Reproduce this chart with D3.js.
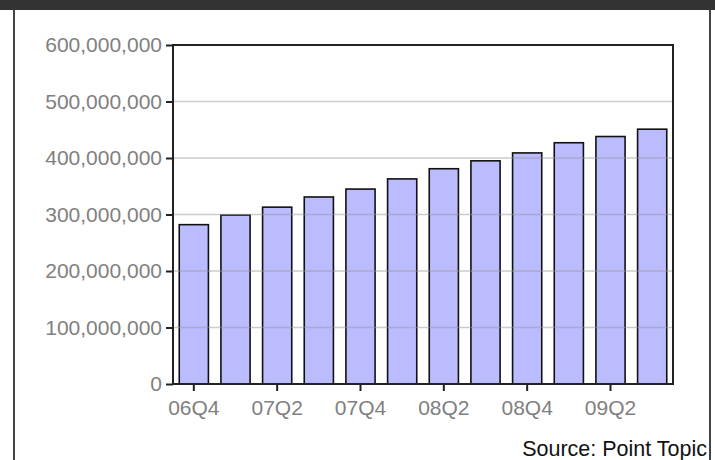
<!DOCTYPE html>
<html>
<head>
<meta charset="utf-8">
<script src="https://cdn.jsdelivr.net/npm/d3@7"></script>
<style>
  body { margin: 0; background: #fff; }
  svg { display: block; }
</style>
</head>
<body>
<script>
var quarters = ['06Q4', '07Q1', '07Q2', '07Q3', '07Q4', '08Q1', '08Q2', '08Q3', '08Q4', '09Q1', '09Q2', '09Q3'];
var subscribers = [282e6, 299e6, 313e6, 331e6, 345e6, 363e6, 381e6, 395e6, 409e6, 427e6, 438e6, 451e6];
var yTicks = [0, 100e6, 200e6, 300e6, 400e6, 500e6, 600e6];
var xLabels = ['06Q4', '07Q2', '07Q4', '08Q2', '08Q4', '09Q2'];

var width = 715, height = 460;
var plot = { left: 173, right: 673, top: 45, bottom: 384 };

var svg = d3.select('body').append('svg')
    .attr('width', width)
    .attr('height', height);

// dark header strip + frame sides
svg.append('rect')
    .attr('x', 0).attr('y', 0)
    .attr('width', width).attr('height', 10)
    .attr('fill', '#333');
svg.append('line')
    .attr('x1', 14).attr('x2', 14).attr('y1', 10).attr('y2', height)
    .attr('stroke', '#444').attr('stroke-width', 2);
svg.append('line')
    .attr('x1', 710).attr('x2', 710).attr('y1', 10).attr('y2', height)
    .attr('stroke', '#444').attr('stroke-width', 2);

var x = d3.scaleBand()
    .domain(quarters)
    .range([plot.left, plot.right])
    .paddingInner(0.3)
    .paddingOuter(0.15);

var y = d3.scaleLinear()
    .domain([0, 600e6])
    .range([plot.bottom, plot.top]);

svg.selectAll('rect.bar')
    .data(subscribers)
    .enter().append('rect')
    .attr('class', 'bar')
    .attr('x', function(d, i) { return x(quarters[i]); })
    .attr('y', function(d) { return y(d); })
    .attr('width', x.bandwidth())
    .attr('height', function(d) { return plot.bottom - y(d); })
    .attr('fill', '#bbbbff')
    .attr('stroke', '#111')
    .attr('stroke-width', 1.6);

// gridlines drawn over the bars, like the original
svg.selectAll('line.grid')
    .data(yTicks.slice(1, -1))
    .enter().append('line')
    .attr('class', 'grid')
    .attr('x1', plot.left).attr('x2', plot.right)
    .attr('y1', function(d) { return y(d); })
    .attr('y2', function(d) { return y(d); })
    .attr('stroke', '#999')
    .attr('stroke-opacity', 0.5)
    .attr('stroke-width', 1.5);

// plot border
svg.append('rect')
    .attr('x', plot.left).attr('y', plot.top)
    .attr('width', plot.right - plot.left)
    .attr('height', plot.bottom - plot.top)
    .attr('fill', 'none')
    .attr('stroke', '#222')
    .attr('stroke-width', 2);

var fmt = d3.format(',');

var yAxis = svg.append('g')
    .attr('transform', 'translate(' + plot.left + ',0)')
    .call(d3.axisLeft(y).tickValues(yTicks).tickFormat(fmt).tickSize(7).tickPadding(4));

var xAxis = svg.append('g')
    .attr('transform', 'translate(0,' + plot.bottom + ')')
    .call(d3.axisBottom(x).tickValues(xLabels).tickSize(7).tickPadding(9));

[yAxis, xAxis].forEach(function(g) {
    g.select('.domain').remove();
    g.selectAll('.tick line').attr('stroke', '#222').attr('stroke-width', 2);
    g.selectAll('.tick text')
        .attr('fill', '#808080')
        .style('font-family', '"Liberation Sans", Arial, sans-serif')
        .style('font-size', '21px');
});

svg.append('text')
    .attr('x', 707)
    .attr('y', 456)
    .attr('text-anchor', 'end')
    .style('font-family', '"Liberation Sans", Arial, sans-serif')
    .style('font-size', '21.5px')
    .attr('fill', '#111')
    .text('Source: Point Topic');
</script>
</body>
</html>
